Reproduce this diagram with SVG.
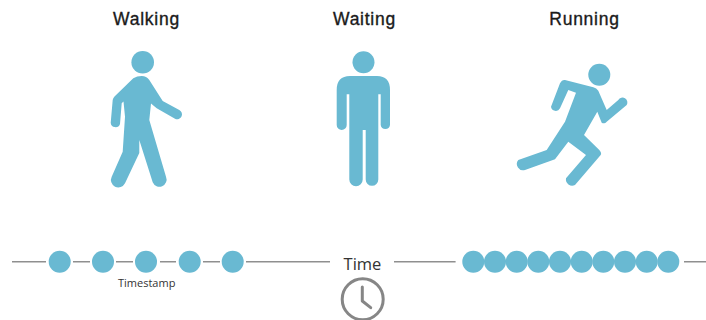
<svg xmlns="http://www.w3.org/2000/svg" width="706" height="320" viewBox="0 0 706 320">
<style>
.h{font-family:"Liberation Sans",Arial,sans-serif;font-size:17.5px;fill:#1a1a1a;stroke:#1a1a1a;stroke-width:.35px;text-anchor:middle;letter-spacing:.75px}
.s{font-family:"Open Sans",sans-serif;fill:#333;text-anchor:middle}
.b{fill:#69b9d2}
.a{fill:none;stroke:#8f8f8f;stroke-width:1.6}
</style>
<defs><circle id="d" r="11" fill="#69b9d2"/></defs>
<rect width="706" height="320" fill="#fff"/>
<g id="walking">
<text class="h" x="146.500" y="25">Walking</text>
<circle class="b" cx="142.700" cy="62.300" r="11.300"/>
<path class="b" d="M141.700 76Q146.500 76 149.300 80L162.700 101L179.300 110A4.800 4.800 0 0 1 175 118.700L156.700 108.300L151 103.500L149.300 120L166 176.700A7 7 0 0 1 152.700 182.300L139.300 140L139.300 153L125 183.300A7.300 7.300 0 0 1 111.700 176.700L122.700 151.700L125 116.700L123.500 101.500L121.700 103.300L120 124A4.800 4.800 0 0 1 110.700 122.700L112.700 100Q113 98 114.500 96.500L133.300 78.300Q137 76 141.700 76Z"/>
</g>
<g id="waiting">
<text class="h" x="364.500" y="25">Waiting</text>
<circle class="b" cx="363.500" cy="62.300" r="11"/>
<path class="b" d="M350 76H377Q390 76 390 90V125A4.700 4.700 0 0 1 380.700 125V94.300H378.300V179.500A6.300 6.300 0 0 1 365.700 179.500V130H362.700V179.500A6.700 6.700 0 0 1 349.300 179.500V94.300H346.700V125A5 5 0 0 1 336.700 125V90Q336.700 76 350 76Z"/>
</g>
<g id="running">
<text class="h" x="584.500" y="25">Running</text>
<circle class="b" cx="599.300" cy="74.700" r="11"/>
<path class="b" d="M560 83.300Q562 79.500 565 80L593.300 87.300Q596.500 88 598.300 90.700L606.700 110L618.300 100A4.800 4.800 0 0 1 626.700 105L606.700 121.700A3.500 3.500 0 0 1 601.700 122.700L597.300 111.700L584 135L599.300 150Q602 153 600.700 155L575 185A6.300 6.300 0 0 1 566 178.300L586 155L568.300 141.700L555 159.300L525 170A6.300 6.300 0 0 1 518.300 160L546.700 150L565 121.700L576 92.700L568.300 90L560 108.300A4.800 4.800 0 0 1 551 106.700Z"/>
</g>
<g id="connectors">
<path class="a" d="M12 261.700H46M73 261.700H90M116 261.700H133M160 261.700H176M203 261.700H220M246 261.700H330M394 261.700H455.600M684 261.700H706"/>
</g>
<g id="stamps-left">
<use href="#d" x="59.700" y="261.700"/><use href="#d" x="103" y="261.700"/><use href="#d" x="146" y="261.700"/><use href="#d" x="189.700" y="261.700"/><use href="#d" x="232.700" y="261.700"/>
<text class="s" x="146.700" y="286.500" font-size="11">Timestamp</text>
</g>
<g id="stamps-right">
<use href="#d" x="473.300" y="261.700"/><use href="#d" x="495" y="261.700"/><use href="#d" x="516.700" y="261.700"/><use href="#d" x="538.300" y="261.700"/><use href="#d" x="560" y="261.700"/><use href="#d" x="581.700" y="261.700"/><use href="#d" x="603.300" y="261.700"/><use href="#d" x="625" y="261.700"/><use href="#d" x="646.700" y="261.700"/><use href="#d" x="668.300" y="261.700"/>
</g>
<g id="time">
<text class="s" x="362.500" y="270" font-size="16.500">Time</text>
<circle cx="362.700" cy="299.300" r="20.500" fill="none" stroke="#868686" stroke-width="3"/>
<path d="M362.300 287V301L370.700 307.700" fill="none" stroke="#868686" stroke-width="3" stroke-linecap="round" stroke-linejoin="round"/>
</g>
</svg>
